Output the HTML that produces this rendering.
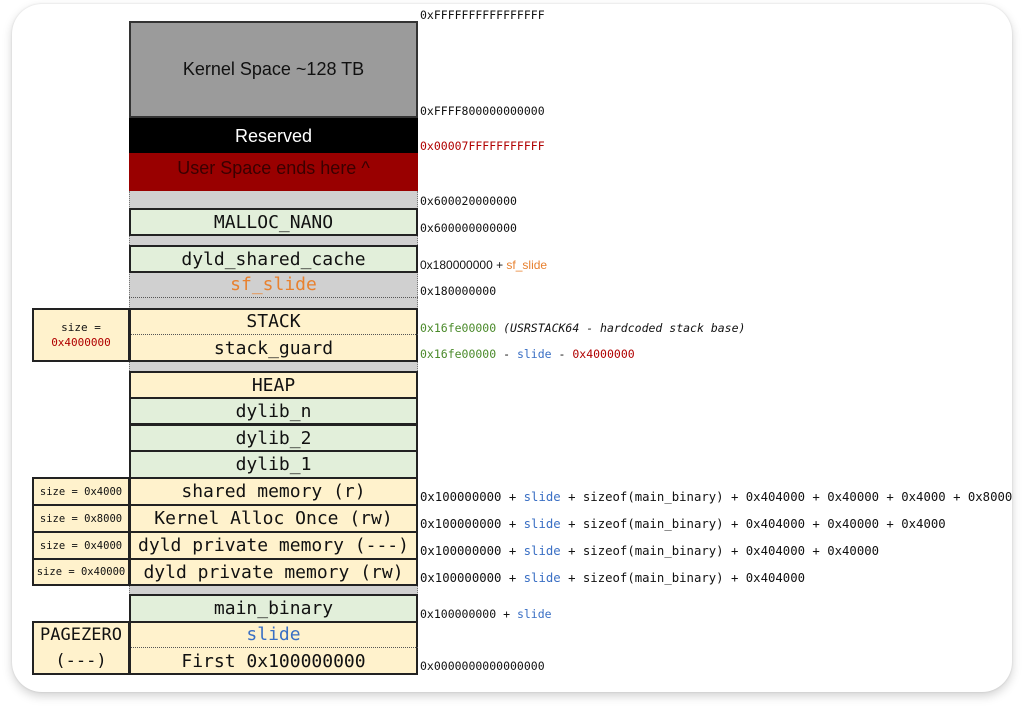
<!DOCTYPE html>
<html><head><meta charset="utf-8"><style>
body{margin:0;width:1024px;height:712px;background:#fff;position:relative;overflow:hidden;font-family:"Liberation Sans",sans-serif}
.card{position:absolute;left:12px;top:4px;width:1000px;height:688px;border-radius:30px;background:#fff;box-shadow:0 4px 10px rgba(0,0,0,0.18),0 0 2px rgba(0,0,0,0.12)}
.b{position:absolute;box-sizing:border-box;display:flex;align-items:center;justify-content:center;font-family:"DejaVu Sans Mono","Liberation Mono",monospace;font-size:18px;color:#111;white-space:nowrap}
.g{background:#e2efda;border:2px solid #222}
.y{background:#fff2cc;border:2px solid #222}
.gr{background:#d0d0d0;border-left:1px dotted #777;border-right:1px dotted #777}
.l{position:absolute;left:420px;font-family:"DejaVu Sans Mono","Liberation Mono",monospace;font-size:11.5px;color:#111;white-space:nowrap;line-height:14px}
.s{font-size:10.5px}
.bl{color:#3a6fc4}.or{color:#e8812f}.rd{color:#b00000}.gn{color:#4a8a2a}
</style></head><body>
<div class="card"></div>
<!-- column -->
<div class="b" style="left:129px;top:21px;width:289px;height:97px;background:#9b9b9b;border:2px solid #333;font-family:'Liberation Sans',sans-serif;font-size:18px">Kernel Space ~128 TB</div>
<div class="b" style="left:129px;top:118px;width:289px;height:36px;background:#000;color:#fff;font-family:'Liberation Sans',sans-serif;font-size:18px">Reserved</div>
<div class="b" style="left:129px;top:153px;width:289px;height:38px;background:#990000;color:#3a0000;font-family:'Liberation Sans',sans-serif;font-size:18px;padding-bottom:8px">User Space ends here ^</div>
<div class="b gr" style="left:129px;top:191px;width:289px;height:404px"></div>
<div class="b g" style="left:129px;top:208px;width:289px;height:28px">MALLOC_NANO</div>
<div class="b g" style="left:129px;top:245px;width:289px;height:28px">dyld_shared_cache</div>
<div class="b" style="left:129px;top:272px;width:289px;height:26px;color:#e8812f;border-bottom:1px dotted #555">sf_slide</div>
<div class="b y" style="left:129px;top:308px;width:289px;height:54px"></div>
<div class="b" style="left:129px;top:308px;width:289px;height:27px;border-bottom:1px dotted #555">STACK</div>
<div class="b" style="left:129px;top:335px;width:289px;height:26px">stack_guard</div>
<div class="b y" style="left:32px;top:308px;width:98px;height:54px;flex-direction:column;font-size:11px;line-height:15px"><span>size =</span><span class="rd">0x4000000</span></div>
<div class="b y" style="left:129px;top:371px;width:289px;height:28px">HEAP</div>
<div class="b g" style="left:129px;top:397px;width:289px;height:28px">dylib_n</div>
<div class="b g" style="left:129px;top:424px;width:289px;height:28px">dylib_2</div>
<div class="b g" style="left:129px;top:450px;width:289px;height:29px">dylib_1</div>
<div class="b y" style="left:129px;top:477px;width:289px;height:29px">shared memory (r)</div>
<div class="b y" style="left:129px;top:504px;width:289px;height:29px">Kernel Alloc Once (rw)</div>
<div class="b y" style="left:129px;top:531px;width:289px;height:29px">dyld private memory (---)</div>
<div class="b y" style="left:129px;top:558px;width:289px;height:28px">dyld private memory (rw)</div>
<div class="b y" style="left:32px;top:477px;width:98px;height:29px;font-size:10.5px">size = 0x4000</div>
<div class="b y" style="left:32px;top:504px;width:98px;height:29px;font-size:10.5px">size = 0x8000</div>
<div class="b y" style="left:32px;top:531px;width:98px;height:29px;font-size:10.5px">size = 0x4000</div>
<div class="b y" style="left:32px;top:558px;width:98px;height:28px;font-size:10.5px">size = 0x40000</div>
<div class="b g" style="left:129px;top:594px;width:289px;height:29px">main_binary</div>
<div class="b y" style="left:129px;top:621px;width:289px;height:54px"></div>
<div class="b" style="left:129px;top:621px;width:289px;height:27px;color:#3a6fc4;border-bottom:1px dotted #555">slide</div>
<div class="b" style="left:129px;top:648px;width:289px;height:26px">First 0x100000000</div>
<div class="b y" style="left:32px;top:621px;width:98px;height:54px;flex-direction:column;font-size:17px;line-height:26px"><span>PAGEZERO</span><span>(---)</span></div>
<!-- labels -->
<div class="l" style="top:8px">0xFFFFFFFFFFFFFFFF</div>
<div class="l" style="top:104px">0xFFFF800000000000</div>
<div class="l rd" style="top:139px">0x00007FFFFFFFFFFF</div>
<div class="l" style="top:194px">0x600020000000</div>
<div class="l" style="top:221px">0x600000000000</div>
<div class="l" style="top:258px;font-family:'Liberation Sans',sans-serif;font-size:12px">0x180000000 + <span class="or">sf_slide</span></div>
<div class="l" style="top:284px">0x180000000</div>
<div class="l" style="top:321px"><span class="gn">0x16fe00000</span> <i>(USRSTACK64 - hardcoded stack base)</i></div>
<div class="l" style="top:347px"><span class="gn">0x16fe00000</span> - <span class="bl">slide</span> - <span class="rd">0x4000000</span></div>
<div class="l" style="top:490px;font-size:12.3px">0x100000000 + <span class="bl">slide</span> + sizeof(main_binary) + 0x404000 + 0x40000 + 0x4000 + 0x8000</div>
<div class="l" style="top:517px;font-size:12.3px">0x100000000 + <span class="bl">slide</span> + sizeof(main_binary) + 0x404000 + 0x40000 + 0x4000</div>
<div class="l" style="top:544px;font-size:12.3px">0x100000000 + <span class="bl">slide</span> + sizeof(main_binary) + 0x404000 + 0x40000</div>
<div class="l" style="top:571px;font-size:12.3px">0x100000000 + <span class="bl">slide</span> + sizeof(main_binary) + 0x404000</div>
<div class="l" style="top:607px">0x100000000 + <span class="bl">slide</span></div>
<div class="l" style="top:659px">0x0000000000000000</div>
</body></html>
